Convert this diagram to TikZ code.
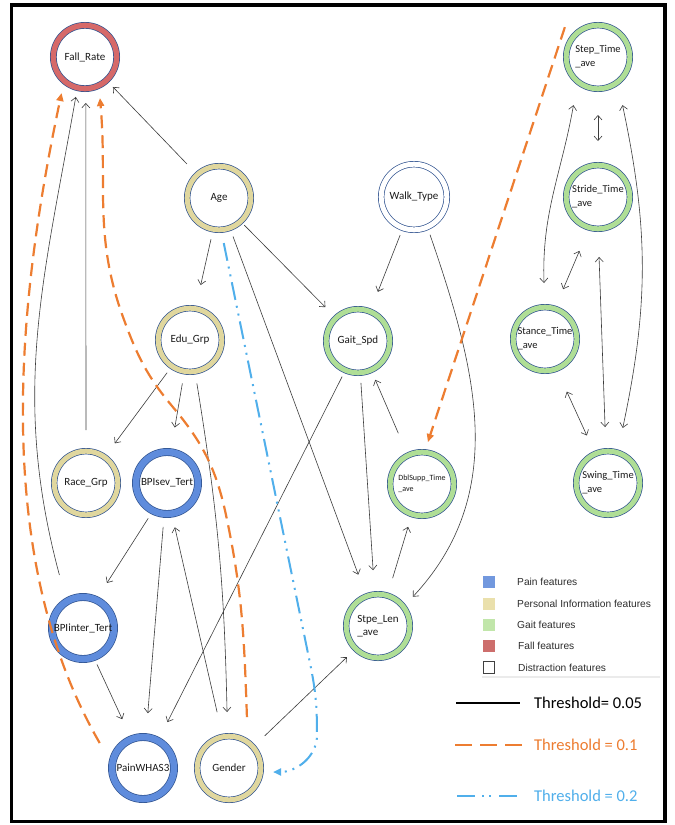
\documentclass[tikz,border=0pt]{standalone}
\usepackage{fontspec}
\setmainfont{Carlito}
\newfontfamily\legfont{Liberation Sans}
\usetikzlibrary{arrows.meta}
\definecolor{outl}{RGB}{47,82,143}
\definecolor{painc}{RGB}{95,140,220}
\definecolor{persc}{RGB}{224,215,158}
\definecolor{gaitc}{RGB}{175,222,150}
\definecolor{fallc}{RGB}{214,105,105}
\definecolor{lpain}{RGB}{114,152,222}
\definecolor{lpers}{RGB}{234,224,172}
\definecolor{lgait}{RGB}{193,230,170}
\definecolor{lfall}{RGB}{205,110,108}
\definecolor{edgec}{RGB}{60,60,60}
\definecolor{orng}{RGB}{237,125,49}
\definecolor{blu}{RGB}{80,175,235}
\definecolor{legtext}{RGB}{45,45,45}
\begin{document}
\begin{tikzpicture}[x=1pt,y=1pt,
  ringnode/.style={circle, inner sep=0pt, minimum size=63.6pt, draw=outl, line width=0.7pt, double=#1, double distance=5pt, fill=white},
  painring/.style={ringnode=painc, minimum size=62pt, double distance=6.5pt},
  lbl/.style={label={[font=\fontsize{11}{13}\selectfont, align=left, text=black!90]center:#1}},
  lblm/.style={label={[font=\fontsize{10.5}{14}\selectfont, align=left, text=black!90]center:#1}},
  lbls/.style={label={[font=\fontsize{8}{11}\selectfont, align=left, text=black!90]center:#1}},
  edge/.style={draw=edgec, line width=0.6pt, -{Straight Barb[length=4.5pt,width=8pt]}},
  biedge/.style={draw=edgec, line width=0.6pt, {Straight Barb[length=4.5pt,width=8pt]}-{Straight Barb[length=4.5pt,width=8pt]}},
  oedge/.style={draw=orng, line width=2.2pt, dash pattern=on 13pt off 7pt, -{Triangle[length=8pt,width=7pt]}},
  bedge/.style={draw=blu, line width=2pt, dash pattern=on 18pt off 6pt on 2pt off 6pt on 2pt off 6pt, -{Triangle[length=8pt,width=7pt]}},
  legsq/.style={rectangle, minimum size=12pt, inner sep=0pt},
  legtxt/.style={anchor=west, inner sep=0pt, font=\legfont\fontsize{10.2}{12}\selectfont, text=legtext},
  thtxt/.style={anchor=west, inner sep=0pt, font=\fontsize{16.5}{18}\selectfont}
]
\fill[white] (0,0) rectangle (675,-825);
\useasboundingbox (0,0) rectangle (675,-825);

% nodes
\node[ringnode=fallc, minimum size=63.3pt, double distance=5.3pt, lbl={Fall\_Rate}] (fall) at (85,-57) {};
\node[ringnode=persc, lbl={Age}] (age) at (219,-198) {};
\node[ringnode=white, minimum size=65.6pt, lbl={Walk\_Type}] (walk) at (414,-197) {};
\node[ringnode=gaitc, lblm={Step\_Time\\\_ave}] (step) at (598,-57) {};
\node[ringnode=gaitc, lblm={Stride\_Time\\\_ave}] (stride) at (598,-197) {};
\node[ringnode=persc, lbl={Edu\_Grp}] (edu) at (190,-340) {};
\node[ringnode=gaitc, lbl={Gait\_Spd}] (gait) at (358,-341) {};
\node[ringnode=gaitc, lblm={Stance\_Time\\\_ave}] (stance) at (545,-339) {};
\node[ringnode=persc, lbl={Race\_Grp}] (race) at (86,-483) {};
\node[painring, lbl={BPIsev\_Tert}] (bpisev) at (167,-483) {};
\node[ringnode=gaitc, lbls={DblSupp\_Time\\\_ave}] (dbl) at (422,-484) {};
\node[ringnode=gaitc, lblm={Swing\_Time\\\_ave}] (swing) at (608,-483) {};
\node[painring, lbl={BPIinter\_Tert}] (bpiint) at (83,-628) {};
\node[ringnode=gaitc, lbl={Stpe\_Len\\\_ave}] (stpe) at (378,-626) {};
\node[painring, lbl={PainWHAS3}] (pain) at (143,-768) {};
\node[ringnode=persc, lbl={Gender}] (gender) at (229,-768) {};

% black edges (threshold 0.05)
\draw[edge] ([shift={(133.3:46.7)}]age.center) -- ([shift={(-47:41)}]fall.center);
\draw[edge] ([shift={(90:53)}]race.center) -- ([shift={(-89:46)}]fall.center);
\draw[edge] ([shift={(114:58)}]bpiint.center) to[out=105,in=-100] ([shift={(-103:41)}]fall.center);
\draw[edge] ([shift={(-101:42)}]age.center) -- ([shift={(79:56)}]edu.center);
\draw[edge] ([shift={(-70:41)}]age.center) -- ([shift={(111:55)}]stpe.center);
\draw[edge] ([shift={(-47:37)}]age.center) -- ([shift={(134:47)}]gait.center);
\draw[edge] ([shift={(-110:40.5)}]walk.center) -- ([shift={(68:53)}]gait.center);
\draw[edge] ([shift={(-67:41)}]walk.center) to[out=-71,in=47] ([shift={(40:45.5)}]stpe.center);
\draw[edge] ([shift={(-114:39)}]gait.center) -- ([shift={(62:52)}]pain.center);
\draw[edge] ([shift={(-86:42)}]gait.center) -- ([shift={(95:56)}]stpe.center);
\draw[edge] ([shift={(115:56)}]dbl.center) -- ([shift={(-66:42.5)}]gait.center);
\draw[edge] ([shift={(73:50)}]stpe.center) -- ([shift={(-108:45)}]dbl.center);
\draw[edge] ([shift={(42:48)}]gender.center) -- ([shift={(-135:44)}]stpe.center);
\draw[edge] ([shift={(-125:40)}]edu.center) -- ([shift={(54:49)}]race.center);
\draw[edge] ([shift={(-100:44)}]edu.center) -- ([shift={(82:56)}]bpisev.center);
\draw[edge] ([shift={(-81:44)}]edu.center) to[bend left=4] ([shift={(92:56)}]gender.center);
\draw[edge] ([shift={(-118:40)}]bpisev.center) -- ([shift={(62:51)}]bpiint.center);
\draw[edge] ([shift={(-95:44)}]bpisev.center) -- ([shift={(85:55)}]pain.center);
\draw[edge] ([shift={(102:57)}]gender.center) -- ([shift={(-80:45)}]bpisev.center);
\draw[edge] ([shift={(-69:39)}]bpiint.center) -- ([shift={(113:53)}]pain.center);

% gait cluster (double-headed)
\draw[biedge] ([shift={(-90:58)}]step.center) -- ([shift={(90:56)}]stride.center);
\draw[biedge] ([shift={(91:56)}]stance.center) to[out=92,in=-100] ([shift={(-117:54)}]step.center);
\draw[biedge] ([shift={(70:53)}]stance.center) -- ([shift={(-109:57)}]stride.center);
\draw[biedge] ([shift={(-89:60)}]stride.center) -- ([shift={(93:56)}]swing.center);
\draw[biedge] ([shift={(-63:54)}]step.center) to[out=-78,in=78] ([shift={(75:57)}]swing.center);
\draw[biedge] ([shift={(-67.5:57)}]stance.center) -- ([shift={(114:52)}]swing.center);

% orange edges (threshold 0.1)
\draw[oedge] ([shift={(150:50)}]pain.center) to[out=120,in=-102,looseness=0.85] ([shift={(-123:43)}]fall.center);
\coordinate (ob1) at (226,-515);
\coordinate (ob2) at (172,-406);
\coordinate (ob3) at (123,-317);
\draw[oedge] ([shift={(70.6:54)}]gender.center) to[out=92,in=-78] (ob1) to[out=102,in=-50] (ob2) to[out=130,in=-70] (ob3) to[out=110,in=-85] ([shift={(-70:43.7)}]fall.center);
\draw[oedge] ([shift={(138:44.6)}]step.center) -- ([shift={(82:42.4)}]dbl.center);

% blue edge (threshold 0.2)
\coordinate (bw1) at (311,-668);
\coordinate (bw2) at (317,-735);
\draw[bedge] ([shift={(-84:45.3)}]age.center) -- (bw1) to[out=-79,in=90] (bw2) to[out=-90,in=0] ([shift={(-5.2:44.2)}]gender.center);

% legend
\node[legsq, fill=lpain] (sq1) at (489,-582) {};
\node[legsq, fill=lpers] (sq2) at (489,-603.5) {};
\node[legsq, fill=lgait] (sq3) at (489,-625) {};
\node[legsq, fill=lfall] (sq4) at (489,-646) {};
\node[legsq, fill=white, draw=black!75, line width=0.8pt, minimum size=11.5pt] (sq5) at (489,-667.5) {};
\node[legtxt] (lt1) at (517,-582) {Pain features};
\node[legtxt] (lt2) at (517,-603.5) {Personal Information features};
\node[legtxt] (lt3) at (517,-625) {Gait features};
\node[legtxt] (lt4) at (518,-646) {Fall features};
\node[legtxt] (lt5) at (518,-667.5) {Distraction features};
\draw[black!8, line width=1.5pt] (482,-677) -- (660,-677);

\draw[black, line width=2.5pt] (456,-703) -- (520,-703);
\node[thtxt, text=black] (th1) at (534,-703) {Threshold= 0.05};
\draw[orng, line width=2.5pt, dash pattern=on 17pt off 8pt] (455,-745) -- (522,-745);
\node[thtxt, text=orng] (th2) at (534,-745) {Threshold = 0.1};
\draw[blu, line width=2.5pt, dash pattern=on 18pt off 7pt on 2pt off 5pt on 2pt off 8pt] (457,-796) -- (517,-796);
\node[thtxt, text=blu] (th3) at (534,-796) {Threshold = 0.2};

% frame
\draw[black, line width=3.3pt] (11.7,-5) rectangle (665,-821.5);
\end{tikzpicture}
\end{document}
